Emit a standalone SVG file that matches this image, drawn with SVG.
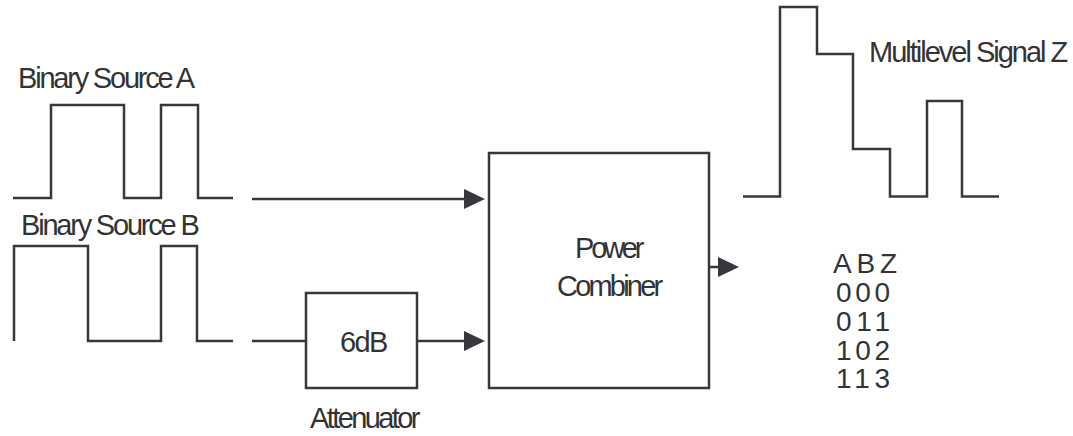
<svg xmlns="http://www.w3.org/2000/svg" width="1073" height="436" viewBox="0 0 1073 436">
<style>
.w{fill:none;stroke:#38383c;stroke-width:2.5;stroke-linejoin:miter}
.box{fill:#fff;stroke:#38383c;stroke-width:2.5}
.t{font-family:"Liberation Sans",Arial,sans-serif;font-size:29px;fill:#333336}
.n{font-family:"Liberation Sans",Arial,sans-serif;font-size:28px;fill:#333336}
</style>
<defs>
<marker id="ah" markerUnits="userSpaceOnUse" markerWidth="22" markerHeight="22" refX="12" refY="10" orient="auto">
<path d="M0,0 L21,10 L0,20 z" fill="#38383c"/>
</marker>
</defs>
<g id="sourceA">
<path class="w" d="M13,198 H51 V105 H124 V198 H161 V105 H198 V198 H233"/>
<text class="t" x="18" y="88" letter-spacing="-2.2">Binary Source A</text>
</g>
<g id="sourceB">
<path class="w" d="M14,341 V246 H88 V341 H161 V246 H197 V341 H233"/>
<text class="t" x="21" y="235" letter-spacing="-2.2">Binary Source B</text>
</g>
<g id="attenuator">
<rect class="box" x="306" y="293" width="111" height="95"/>
<text class="t" x="340" y="352" letter-spacing="-1.6">6dB</text>
<text class="t" x="310" y="428" letter-spacing="-2.6">Attenuator</text>
</g>
<g id="combiner">
<rect class="box" x="489" y="153" width="220" height="235"/>
<text class="t" x="575" y="258" letter-spacing="-3.2">Power</text>
<text class="t" x="557" y="296" letter-spacing="-2.8">Combiner</text>
</g>
<g id="output">
<path class="w" d="M743,196.5 H780 V7 H817 V54 H853 V149 H890 V196.5 H927 V101 H962 V196.5 H999"/>
<text class="t" x="869" y="62" letter-spacing="-2">Multilevel Signal Z</text>
</g>
<g id="table">
<text class="n" x="833" y="273" textLength="64" lengthAdjust="spacing">ABZ</text>
<text class="n" x="836" y="302" textLength="54" lengthAdjust="spacing">000</text>
<text class="n" x="836" y="331" textLength="54" lengthAdjust="spacing">011</text>
<text class="n" x="836" y="360" textLength="54" lengthAdjust="spacing">102</text>
<text class="n" x="836" y="388" textLength="54" lengthAdjust="spacing">113</text>
</g>
<g id="connectors">
<path class="w" d="M252,199 H476" marker-end="url(#ah)"/>
<path class="w" d="M252,341 H306"/>
<path class="w" d="M417,341 H476" marker-end="url(#ah)"/>
<path class="w" d="M709,267 H730" marker-end="url(#ah)"/>
</g>
</svg>
